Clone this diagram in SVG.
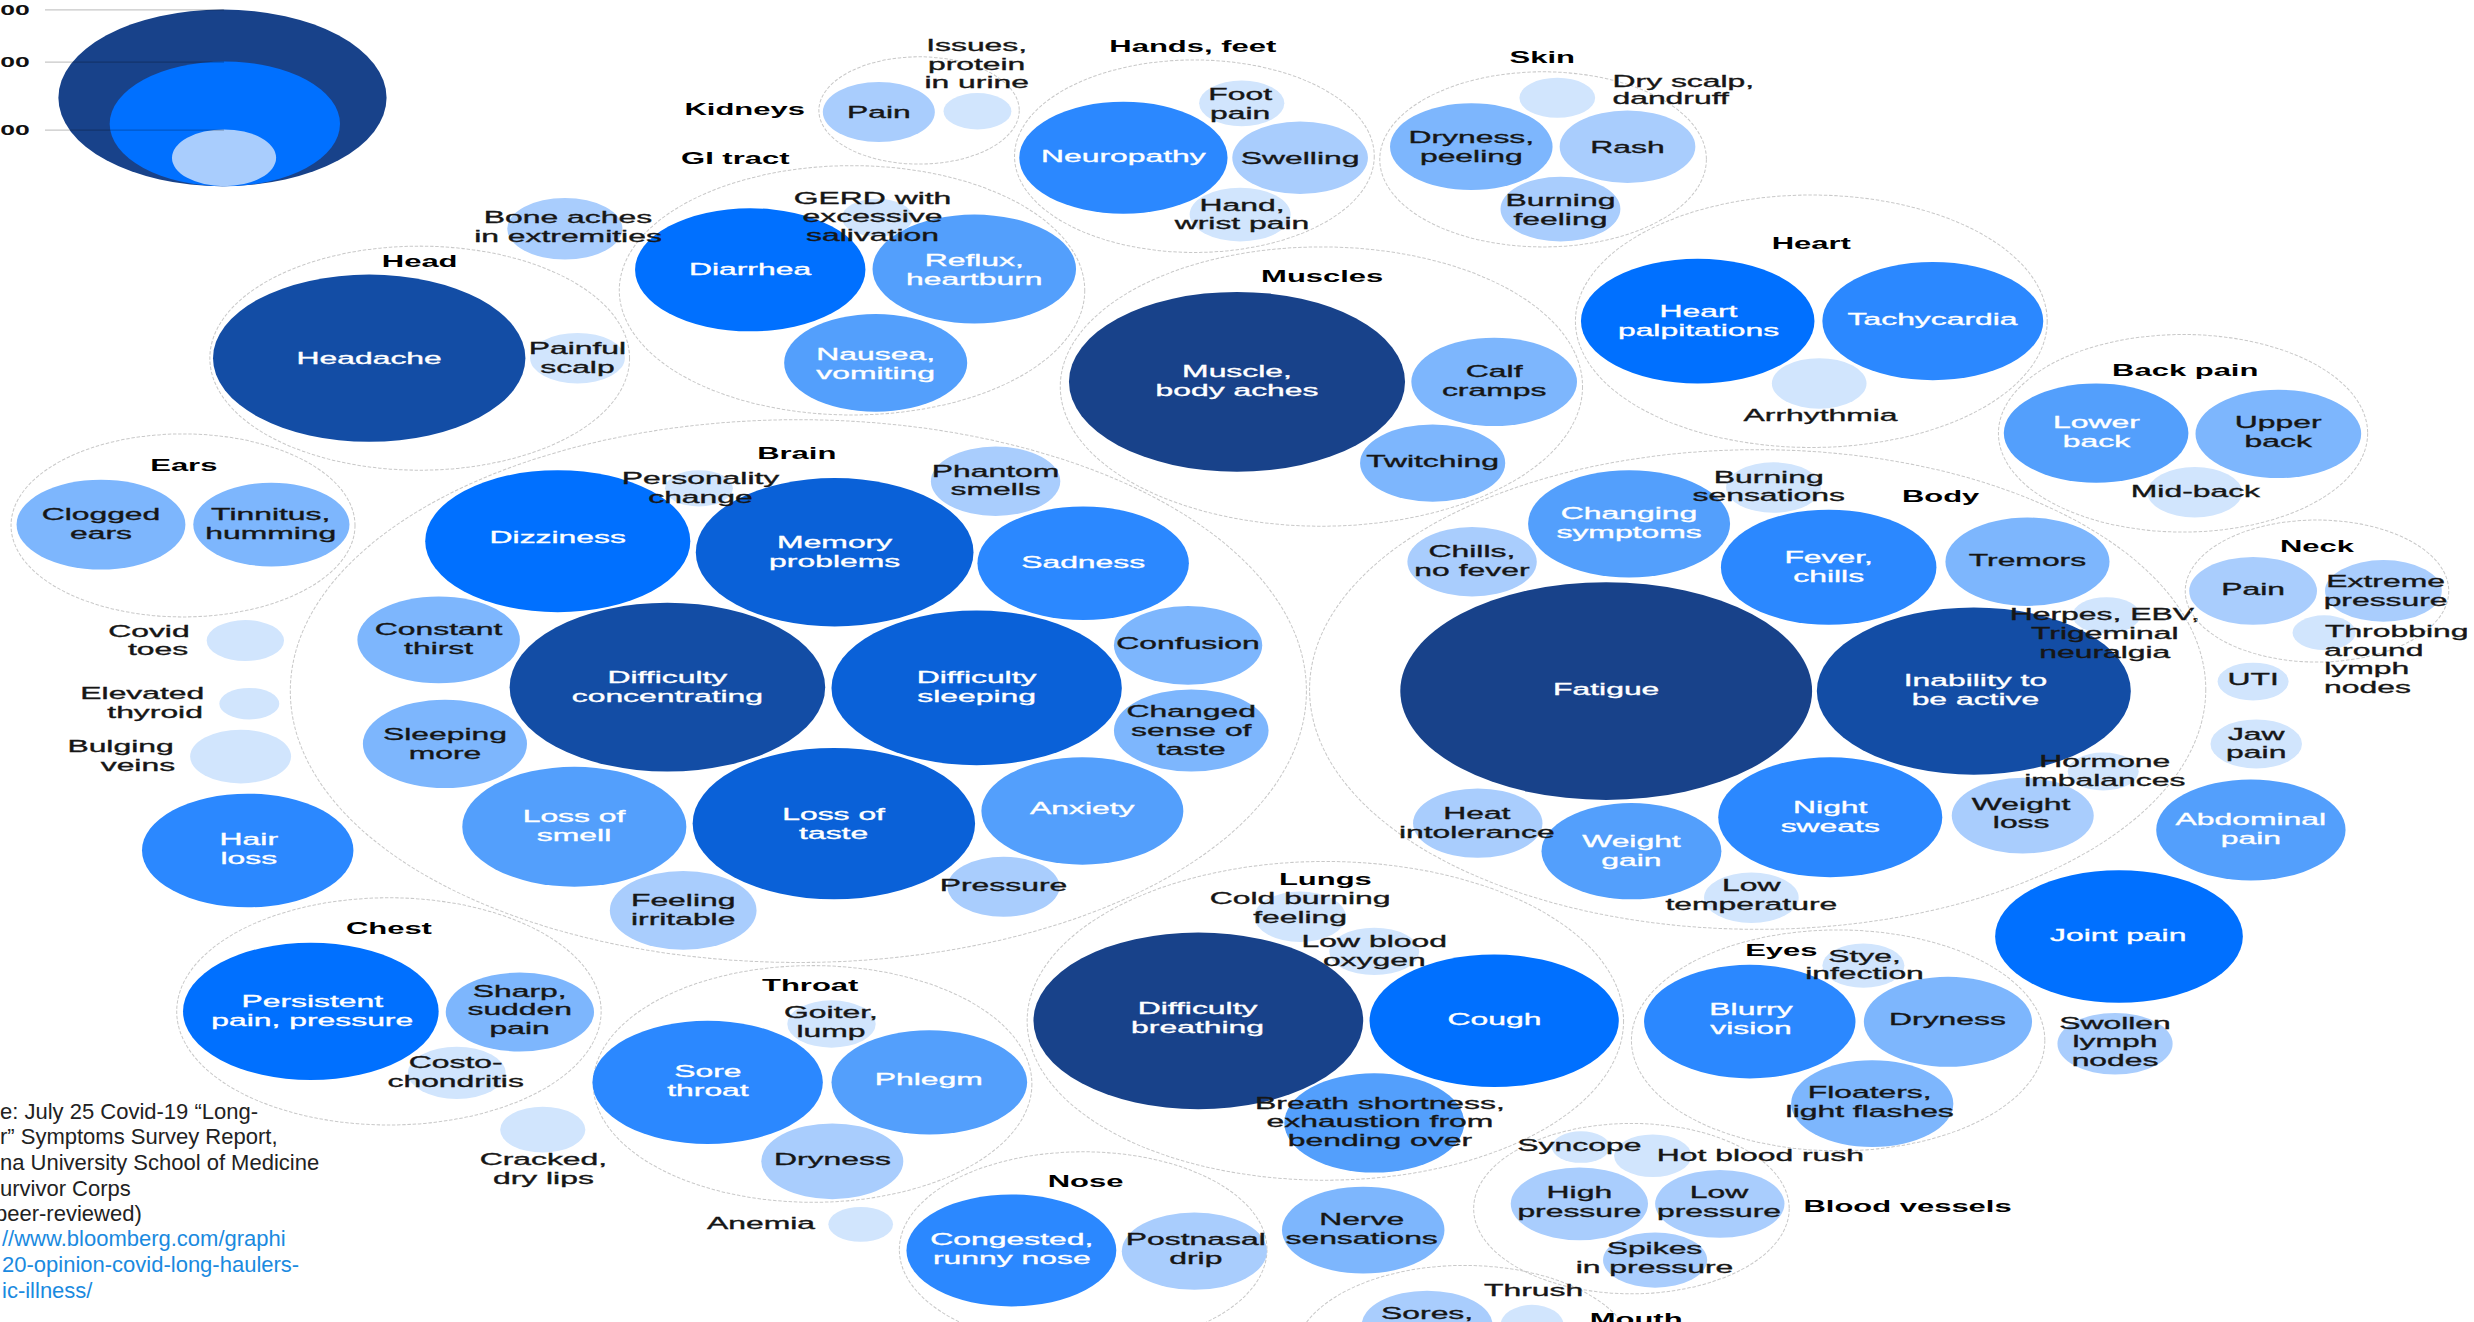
<svg xmlns="http://www.w3.org/2000/svg" width="2474" height="1322" viewBox="0 0 2474 1322">
<style>
.o{fill:none;stroke:#c9c9c9;stroke-width:.65;stroke-dasharray:2.2 1.1}
.c1{fill:#18428a}.c2{fill:#134da5}.c3{fill:#0a61d8}.c4{fill:#0070ff}.c5{fill:#2b88ff}.c6{fill:#539ffc}.c7{fill:#7db6fd}.c8{fill:#a9cdfd}.c9{fill:#d1e5fd}
text{font-family:"Liberation Sans",Arial,Helvetica,sans-serif;font-size:10.8px;text-anchor:middle;transform-box:fill-box;transform-origin:center;transform:scaleX(1.87)}
.w{fill:#fff;stroke:#fff;stroke-width:.22}.d{fill:#161616;stroke:#161616;stroke-width:.22}.h{font-weight:700;font-size:10.5px;fill:#000}
.lg{font-weight:700;font-size:9px;fill:#111}
.ll{stroke:#000;stroke-opacity:.22;stroke-width:.8}
.src{transform:none;text-anchor:start;font-size:22px;fill:#222}
.lnk{fill:#1a8ae0}
</style>
<rect width="2474" height="1322" fill="#fff"/>
<g id="chart" transform="scale(1.5778)">
<g id="legend">
<ellipse class="c1" cx="141" cy="62" rx="104" ry="56"/>
<ellipse class="c4" cx="142.5" cy="78.5" rx="73" ry="39.5"/>
<ellipse class="c8" cx="142" cy="100" rx="33" ry="18"/>
<g id="connectors">
<line class="ll" x1="28.5" y1="6.3" x2="142" y2="6.3"/>
<line class="ll" x1="28.5" y1="39.3" x2="142" y2="39.3"/>
<line class="ll" x1="28.5" y1="82.5" x2="142" y2="82.5"/>
</g>
<text class="lg" x="9.5" y="9.5">00</text>
<text class="lg" x="9.5" y="42.5">00</text>
<text class="lg" x="9.5" y="85.5">00</text>
</g>

<g id="grp-head">
<ellipse class="o" cx="266" cy="227" rx="133" ry="71"/>
<text class="h" x="266" y="169">Head</text>
<g id="n-headache"><ellipse class="c2" cx="234" cy="227" rx="99" ry="53"/><text class="w" x="234" y="230.9">Headache</text></g>
<g id="n-painful-scalp"><ellipse class="c9" cx="366" cy="227" rx="30" ry="16"/><text class="d" x="366" y="224.6"><tspan x="366">Painful</tspan><tspan x="366" dy="12">scalp</tspan></text></g>
</g>

<g id="grp-kidneys">
<ellipse class="o" cx="582.5" cy="70" rx="63.5" ry="34"/>
<text class="h" x="472" y="73">Kidneys</text>
<g id="n-kidney-pain"><ellipse class="c8" cx="557" cy="71" rx="35.5" ry="19"/><text class="d" x="557" y="74.9">Pain</text></g>
<g id="n-urine"><ellipse class="c9" cx="619.5" cy="70.5" rx="21.5" ry="11.5"/><text class="d" x="619" y="32.6"><tspan x="619">Issues,</tspan><tspan x="619" dy="11.7">protein</tspan><tspan x="619" dy="11.7">in urine</tspan></text></g>
</g>

<g id="grp-gi">
<ellipse class="o" cx="540" cy="184" rx="147.5" ry="79"/>
<text class="h" x="466" y="104">GI tract</text>
<g id="n-diarrhea"><ellipse class="c4" cx="475.5" cy="171" rx="73" ry="39"/><text class="w" x="475.5" y="174.6">Diarrhea</text></g>
<g id="n-reflux"><ellipse class="c6" cx="617.5" cy="170.5" rx="64.5" ry="34.5"/><text class="w" x="617.5" y="168.4"><tspan x="617.5">Reflux,</tspan><tspan x="617.5" dy="12">heartburn</tspan></text></g>
<g id="n-nausea"><ellipse class="c6" cx="555" cy="230" rx="58" ry="31"/><text class="w" x="555" y="227.9"><tspan x="555">Nausea,</tspan><tspan x="555" dy="12">vomiting</tspan></text></g>
<g id="n-gerd"><ellipse class="c9" cx="556" cy="138" rx="22.5" ry="12"/><text class="d" x="553" y="129.2"><tspan x="553">GERD with</tspan><tspan x="553" dy="11.7">excessive</tspan><tspan x="553" dy="11.7">salivation</tspan></text></g>
</g>

<g id="n-bone-aches"><ellipse class="c8" cx="358" cy="145" rx="36.5" ry="19.5"/><text class="d" x="360" y="141.6"><tspan x="360">Bone aches</tspan><tspan x="360" dy="11.5">in extremities</tspan></text></g>

<g id="grp-hands">
<ellipse class="o" cx="757" cy="99" rx="114" ry="61"/>
<text class="h" x="756" y="33">Hands, feet</text>
<g id="n-neuropathy"><ellipse class="c5" cx="712" cy="100" rx="66" ry="35.5"/><text class="w" x="712" y="102.6">Neuropathy</text></g>
<g id="n-foot-pain"><ellipse class="c9" cx="787" cy="65.5" rx="27" ry="14.5"/><text class="d" x="786" y="63.4"><tspan x="786">Foot</tspan><tspan x="786" dy="12">pain</tspan></text></g>
<g id="n-swelling"><ellipse class="c8" cx="824" cy="100" rx="43" ry="23"/><text class="d" x="824" y="103.9">Swelling</text></g>
<g id="n-hand-pain"><ellipse class="c9" cx="786" cy="136" rx="32" ry="17"/><text class="d" x="787" y="133.9"><tspan x="787">Hand,</tspan><tspan x="787" dy="11.5">wrist pain</tspan></text></g>
</g>

<g id="grp-skin">
<ellipse class="o" cx="978" cy="101" rx="103.5" ry="55.5"/>
<text class="h" x="977.5" y="40">Skin</text>
<g id="n-dryness-peeling"><ellipse class="c7" cx="932.5" cy="93" rx="51.5" ry="27.5"/><text class="d" x="932.5" y="90.9"><tspan x="932.5">Dryness,</tspan><tspan x="932.5" dy="12">peeling</tspan></text></g>
<g id="n-rash"><ellipse class="c8" cx="1031.5" cy="93" rx="43" ry="23"/><text class="d" x="1031.5" y="96.9">Rash</text></g>
<g id="n-dry-scalp"><ellipse class="c9" cx="987" cy="62" rx="24" ry="12.7"/><text class="d" x="1066.9" y="54.9">Dry scalp,</text><text class="d" x="1059" y="65.9">dandruff</text></g>
<g id="n-burning-feeling"><ellipse class="c8" cx="989" cy="132.5" rx="38" ry="20.5"/><text class="d" x="989" y="130.4"><tspan x="989">Burning</tspan><tspan x="989" dy="12">feeling</tspan></text></g>
</g>

<g id="grp-muscles">
<ellipse class="o" cx="837.5" cy="245" rx="165.5" ry="88.5"/>
<text class="h" x="838" y="179">Muscles</text>
<g id="n-muscle-aches"><ellipse class="c1" cx="784" cy="242" rx="106.5" ry="57"/><text class="w" x="784" y="238.8"><tspan x="784">Muscle,</tspan><tspan x="784" dy="12">body aches</tspan></text></g>
<g id="n-calf"><ellipse class="c7" cx="947" cy="242" rx="52.5" ry="28"/><text class="d" x="947" y="238.8"><tspan x="947">Calf</tspan><tspan x="947" dy="12">cramps</tspan></text></g>
<g id="n-twitching"><ellipse class="c7" cx="908" cy="293.5" rx="46" ry="24.5"/><text class="d" x="908" y="295.9">Twitching</text></g>
</g>

<g id="grp-heart">
<ellipse class="o" cx="1148" cy="203.6" rx="149.5" ry="80"/>
<text class="h" x="1148" y="158">Heart</text>
<g id="n-palpitations"><ellipse class="c4" cx="1076" cy="203.5" rx="74" ry="39.5"/><text class="w" x="1076.5" y="200.9"><tspan x="1076.5">Heart</tspan><tspan x="1076.5" dy="12">palpitations</tspan></text></g>
<g id="n-tachycardia"><ellipse class="c5" cx="1225" cy="203.5" rx="70" ry="37.5"/><text class="w" x="1225" y="205.9">Tachycardia</text></g>
<g id="n-arrhythmia"><ellipse class="c9" cx="1153" cy="243" rx="30" ry="16"/><text class="d" x="1154" y="266.9">Arrhythmia</text></g>
</g>

<g id="grp-back">
<ellipse class="o" cx="1383.6" cy="274.6" rx="117" ry="62.6"/>
<text class="h" x="1385" y="238.5">Back pain</text>
<g id="n-lower-back"><ellipse class="c6" cx="1328.5" cy="274.5" rx="58.5" ry="31.5"/><text class="w" x="1328.8" y="271.5"><tspan x="1328.8">Lower</tspan><tspan x="1328.8" dy="12">back</tspan></text></g>
<g id="n-upper-back"><ellipse class="c7" cx="1444" cy="275" rx="52.5" ry="28"/><text class="d" x="1444" y="271.5"><tspan x="1444">Upper</tspan><tspan x="1444" dy="12">back</tspan></text></g>
<g id="n-mid-back"><ellipse class="c9" cx="1391" cy="312" rx="30" ry="16"/><text class="d" x="1391.5" y="314.9">Mid-back</text></g>
</g>

<g id="grp-ears">
<ellipse class="o" cx="116" cy="333" rx="109" ry="58"/>
<text class="h" x="116.5" y="298.5">Ears</text>
<g id="n-clogged"><ellipse class="c7" cx="64" cy="332.5" rx="53.5" ry="28.5"/><text class="d" x="64" y="329.7"><tspan x="64">Clogged</tspan><tspan x="64" dy="12">ears</tspan></text></g>
<g id="n-tinnitus"><ellipse class="c7" cx="172" cy="332.5" rx="49.5" ry="26.5"/><text class="d" x="171.6" y="329.7"><tspan x="171.6">Tinnitus,</tspan><tspan x="171.6" dy="12">humming</tspan></text></g>
</g>

<g id="n-covid-toes"><ellipse class="c9" cx="155.5" cy="406" rx="24.5" ry="13"/><text class="d" x="94.4" y="403.9">Covid</text><text class="d" x="100.2" y="415.4">toes</text></g>
<g id="n-thyroid"><ellipse class="c9" cx="158" cy="446" rx="19" ry="10"/><text class="d" x="90.2" y="442.9">Elevated</text><text class="d" x="98.3" y="454.9">thyroid</text></g>
<g id="n-veins"><ellipse class="c9" cx="152.5" cy="479.5" rx="32" ry="17"/><text class="d" x="76.4" y="476.9">Bulging</text><text class="d" x="87.4" y="488.9">veins</text></g>
<g id="n-hair-loss"><ellipse class="c5" cx="157" cy="539" rx="67" ry="36"/><text class="w" x="157.8" y="535.6"><tspan x="157.8">Hair</tspan><tspan x="157.8" dy="12">loss</tspan></text></g>

<g id="grp-brain">
<ellipse class="o" cx="506" cy="438" rx="322" ry="172"/>
<text class="h" x="505" y="291">Brain</text>
<g id="n-dizziness"><ellipse class="c4" cx="353.5" cy="343" rx="84" ry="45"/><text class="w" x="353.5" y="344.3">Dizziness</text></g>
<g id="n-memory"><ellipse class="c3" cx="529" cy="350" rx="88" ry="47"/><text class="w" x="529" y="347.6"><tspan x="529">Memory</tspan><tspan x="529" dy="12">problems</tspan></text></g>
<g id="n-personality"><ellipse class="c9" cx="443" cy="309.5" rx="21.5" ry="11.5"/><text class="d" x="444" y="306.6"><tspan x="444">Personality</tspan><tspan x="444" dy="12">change</tspan></text></g>
<g id="n-phantom"><ellipse class="c8" cx="631" cy="305" rx="41" ry="22"/><text class="d" x="631" y="302.4"><tspan x="631">Phantom</tspan><tspan x="631" dy="11.5">smells</tspan></text></g>
<g id="n-sadness"><ellipse class="c5" cx="686.5" cy="357" rx="67" ry="36"/><text class="w" x="686.5" y="359.9">Sadness</text></g>
<g id="n-confusion"><ellipse class="c7" cx="753" cy="409" rx="47" ry="25"/><text class="d" x="753" y="411.2">Confusion</text></g>
<g id="n-changed-taste"><ellipse class="c7" cx="755" cy="463" rx="49" ry="26"/><text class="d" x="755" y="454.4"><tspan x="755">Changed</tspan><tspan x="755" dy="12">sense of</tspan><tspan x="755" dy="12">taste</tspan></text></g>
<g id="n-concentrating"><ellipse class="c2" cx="423" cy="435.5" rx="100" ry="53.5"/><text class="w" x="423" y="432.9"><tspan x="423">Difficulty</tspan><tspan x="423" dy="12">concentrating</tspan></text></g>
<g id="n-sleeping"><ellipse class="c3" cx="619" cy="436" rx="92" ry="49"/><text class="w" x="619" y="432.9"><tspan x="619">Difficulty</tspan><tspan x="619" dy="12">sleeping</tspan></text></g>
<g id="n-thirst"><ellipse class="c7" cx="278" cy="405.5" rx="51.5" ry="27.5"/><text class="d" x="278" y="402.6"><tspan x="278">Constant</tspan><tspan x="278" dy="12">thirst</tspan></text></g>
<g id="n-sleeping-more"><ellipse class="c7" cx="282" cy="471.5" rx="52" ry="28"/><text class="d" x="282" y="469.3"><tspan x="282">Sleeping</tspan><tspan x="282" dy="12">more</tspan></text></g>
<g id="n-loss-smell"><ellipse class="c6" cx="364" cy="524" rx="71" ry="38"/><text class="w" x="364" y="520.9"><tspan x="364">Loss of</tspan><tspan x="364" dy="12">smell</tspan></text></g>
<g id="n-loss-taste"><ellipse class="c3" cx="528.5" cy="522" rx="89.5" ry="48"/><text class="w" x="528.5" y="519.6"><tspan x="528.5">Loss of</tspan><tspan x="528.5" dy="12">taste</tspan></text></g>
<g id="n-anxiety"><ellipse class="c6" cx="686" cy="514" rx="64" ry="34"/><text class="w" x="686" y="515.9">Anxiety</text></g>
<g id="n-pressure"><ellipse class="c8" cx="636" cy="562" rx="35.5" ry="19"/><text class="d" x="636" y="564.9">Pressure</text></g>
<g id="n-irritable"><ellipse class="c8" cx="433" cy="577" rx="46.5" ry="25"/><text class="d" x="433" y="574.4"><tspan x="433">Feeling</tspan><tspan x="433" dy="12">irritable</tspan></text></g>
</g>

<g id="grp-body">
<ellipse class="o" cx="1114" cy="437" rx="284" ry="152"/>
<text class="h" x="1230" y="318">Body</text>
<g id="n-fatigue"><ellipse class="c1" cx="1018" cy="438" rx="130.5" ry="69"/><text class="w" x="1018" y="440.5">Fatigue</text></g>
<g id="n-inability"><ellipse class="c2" cx="1251" cy="438" rx="99.5" ry="53"/><text class="w" x="1252" y="434.6"><tspan x="1252">Inability to</tspan><tspan x="1252" dy="12">be active</tspan></text></g>
<g id="n-changing"><ellipse class="c6" cx="1032.5" cy="332" rx="64" ry="34"/><text class="w" x="1032.5" y="329.2"><tspan x="1032.5">Changing</tspan><tspan x="1032.5" dy="12">symptoms</tspan></text></g>
<g id="n-chills"><ellipse class="c8" cx="933" cy="356" rx="41" ry="22"/><text class="d" x="933" y="353.3"><tspan x="933">Chills,</tspan><tspan x="933" dy="12">no fever</tspan></text></g>
<g id="n-fever"><ellipse class="c5" cx="1159" cy="359.5" rx="68.3" ry="36.5"/><text class="w" x="1159" y="356.9"><tspan x="1159">Fever,</tspan><tspan x="1159" dy="12">chills</tspan></text></g>
<g id="n-burning-sens"><ellipse class="c9" cx="1124" cy="309" rx="30" ry="16"/><text class="d" x="1121" y="306.3"><tspan x="1121">Burning</tspan><tspan x="1121" dy="11.5">sensations</tspan></text></g>
<g id="n-tremors"><ellipse class="c7" cx="1285" cy="356" rx="52" ry="28"/><text class="d" x="1285" y="358.9">Tremors</text></g>
<g id="n-herpes"><ellipse class="c9" cx="1335" cy="390" rx="21.5" ry="11.5"/><text class="d" x="1334" y="392.8"><tspan x="1334">Herpes, EBV,</tspan><tspan x="1334" dy="12">Trigeminal</tspan><tspan x="1334" dy="12">neuralgia</tspan></text></g>
<g id="n-weight-gain"><ellipse class="c6" cx="1034" cy="539.5" rx="57" ry="30.5"/><text class="w" x="1034" y="537"><tspan x="1034">Weight</tspan><tspan x="1034" dy="12">gain</tspan></text></g>
<g id="n-heat"><ellipse class="c8" cx="936.6" cy="521.7" rx="41" ry="22"/><text class="d" x="936" y="518.9"><tspan x="936">Heat</tspan><tspan x="936" dy="12">intolerance</tspan></text></g>
<g id="n-night-sweats"><ellipse class="c5" cx="1160" cy="518" rx="71" ry="38"/><text class="w" x="1160" y="515.3"><tspan x="1160">Night</tspan><tspan x="1160" dy="12">sweats</tspan></text></g>
<g id="n-weight-loss"><ellipse class="c8" cx="1282" cy="517" rx="45" ry="24"/><text class="d" x="1281" y="513.1"><tspan x="1281">Weight</tspan><tspan x="1281" dy="12">loss</tspan></text></g>
<g id="n-hormone"><ellipse class="c9" cx="1333" cy="489" rx="22.5" ry="12"/><text class="d" x="1334" y="485.9"><tspan x="1334">Hormone</tspan><tspan x="1334" dy="12">imbalances</tspan></text></g>
<g id="n-low-temp"><ellipse class="c9" cx="1110" cy="569" rx="30" ry="16"/><text class="d" x="1110" y="564.9"><tspan x="1110">Low</tspan><tspan x="1110" dy="12">temperature</tspan></text></g>
</g>

<g id="grp-neck">
<ellipse class="o" cx="1468.5" cy="374.6" rx="83.5" ry="45"/>
<text class="h" x="1468.5" y="350">Neck</text>
<g id="n-throbbing"><ellipse class="c9" cx="1473" cy="401" rx="20" ry="11"/><text class="d" x="1519" y="403.9">Throbbing</text><text class="d" x="1504.6" y="415.6">around</text><text class="d" x="1500" y="427.3">lymph</text><text class="d" x="1500.5" y="439">nodes</text></g>
<g id="n-neck-pain"><ellipse class="c8" cx="1428" cy="374.5" rx="40.5" ry="21.5"/><text class="d" x="1428" y="377.3">Pain</text></g>
<g id="n-extreme"><ellipse class="c8" cx="1510.6" cy="374.5" rx="37" ry="19.5"/><text class="d" x="1512" y="372.1"><tspan x="1512">Extreme</tspan><tspan x="1512" dy="12">pressure</tspan></text></g>
</g>

<g id="n-uti"><ellipse class="c9" cx="1428" cy="432" rx="22.5" ry="12"/><text class="d" x="1428" y="434.3">UTI</text></g>
<g id="n-jaw"><ellipse class="c9" cx="1430" cy="471.5" rx="29" ry="15.5"/><text class="d" x="1430" y="468.7"><tspan x="1430">Jaw</tspan><tspan x="1430" dy="12">pain</tspan></text></g>
<g id="n-abdominal"><ellipse class="c6" cx="1426.6" cy="526" rx="60" ry="32"/><text class="w" x="1426.6" y="522.9"><tspan x="1426.6">Abdominal</tspan><tspan x="1426.6" dy="12">pain</tspan></text></g>
<g id="n-joint"><ellipse class="c4" cx="1343" cy="593.5" rx="78.5" ry="42"/><text class="w" x="1342.5" y="596.5">Joint pain</text></g>
<g id="n-swollen"><ellipse class="c8" cx="1340.5" cy="661.5" rx="36.5" ry="19.5"/><text class="d" x="1340.5" y="651.9"><tspan x="1340.5">Swollen</tspan><tspan x="1340.5" dy="12">lymph</tspan><tspan x="1340.5" dy="12">nodes</tspan></text></g>

<g id="grp-chest">
<ellipse class="o" cx="246.5" cy="641" rx="134.5" ry="72"/>
<text class="h" x="246.5" y="592">Chest</text>
<g id="n-persistent"><ellipse class="c4" cx="197" cy="641" rx="81" ry="43.5"/><text class="w" x="197.9" y="638"><tspan x="197.9">Persistent</tspan><tspan x="197.9" dy="12">pain, pressure</tspan></text></g>
<g id="n-sharp"><ellipse class="c7" cx="329.5" cy="641.4" rx="47" ry="25"/><text class="d" x="329.4" y="631.9"><tspan x="329.4">Sharp,</tspan><tspan x="329.4" dy="11.7">sudden</tspan><tspan x="329.4" dy="11.7">pain</tspan></text></g>
<g id="n-costo"><ellipse class="c9" cx="289.5" cy="680" rx="31" ry="16.5"/><text class="d" x="288.8" y="676.9"><tspan x="288.8">Costo-</tspan><tspan x="288.8" dy="12">chondritis</tspan></text></g>
</g>

<g id="n-cracked"><ellipse class="c9" cx="344" cy="716" rx="27" ry="14.5"/><text class="d" x="344.4" y="738.5"><tspan x="344.4">Cracked,</tspan><tspan x="344.4" dy="12">dry lips</tspan></text></g>

<g id="grp-throat">
<ellipse class="o" cx="515" cy="687" rx="139" ry="75"/>
<text class="h" x="513.5" y="628">Throat</text>
<g id="n-sore-throat"><ellipse class="c5" cx="448.5" cy="686" rx="73" ry="39"/><text class="w" x="448.7" y="682.6"><tspan x="448.7">Sore</tspan><tspan x="448.7" dy="12">throat</tspan></text></g>
<g id="n-phlegm"><ellipse class="c6" cx="589" cy="686" rx="62" ry="33"/><text class="w" x="588.7" y="687.9">Phlegm</text></g>
<g id="n-goiter"><ellipse class="c9" cx="527" cy="649" rx="28" ry="15"/><text class="d" x="526.7" y="645.4"><tspan x="526.7">Goiter,</tspan><tspan x="526.7" dy="12">lump</tspan></text></g>
<g id="n-throat-dryness"><ellipse class="c8" cx="527.5" cy="736" rx="45" ry="24"/><text class="d" x="527.6" y="738.5">Dryness</text></g>
</g>

<g id="n-anemia"><ellipse class="c9" cx="545.5" cy="776" rx="20.5" ry="11"/><text class="d" x="482.5" y="778.9">Anemia</text></g>

<g id="grp-nose">
<ellipse class="o" cx="686.5" cy="792" rx="116.5" ry="62"/>
<text class="h" x="688" y="752">Nose</text>
<g id="n-congested"><ellipse class="c5" cx="641" cy="792.5" rx="66.5" ry="35.5"/><text class="w" x="641.3" y="789.2"><tspan x="641.3">Congested,</tspan><tspan x="641.3" dy="12">runny nose</tspan></text></g>
<g id="n-postnasal"><ellipse class="c8" cx="757" cy="793" rx="46" ry="24.5"/><text class="d" x="757.9" y="789.2"><tspan x="757.9">Postnasal</tspan><tspan x="757.9" dy="12">drip</tspan></text></g>
</g>

<g id="grp-lungs">
<ellipse class="o" cx="840" cy="647" rx="189" ry="101"/>
<text class="h" x="840" y="561">Lungs</text>
<g id="n-breathing"><ellipse class="c1" cx="759.5" cy="647" rx="104.5" ry="56"/><text class="w" x="759" y="642.9"><tspan x="759">Difficulty</tspan><tspan x="759" dy="12">breathing</tspan></text></g>
<g id="n-cough"><ellipse class="c4" cx="947" cy="647" rx="79" ry="42"/><text class="w" x="947.2" y="649.7">Cough</text></g>
<g id="n-breath-short"><ellipse class="c6" cx="871" cy="711.7" rx="57" ry="31.5"/><text class="d" x="874.6" y="702.7"><tspan x="874.6">Breath shortness,</tspan><tspan x="874.6" dy="11.8">exhaustion from</tspan><tspan x="874.6" dy="11.8">bending over</tspan></text></g>
<g id="n-cold-burning"><ellipse class="c9" cx="824" cy="581" rx="29" ry="16"/><text class="d" x="824" y="573.2"><tspan x="824">Cold burning</tspan><tspan x="824" dy="12">feeling</tspan></text></g>
<g id="n-low-oxygen"><ellipse class="c9" cx="871" cy="603" rx="28.5" ry="15"/><text class="d" x="871" y="600.1"><tspan x="871">Low blood</tspan><tspan x="871" dy="12">oxygen</tspan></text></g>
</g>

<g id="grp-eyes">
<ellipse class="o" cx="1165" cy="659.4" rx="131" ry="70"/>
<text class="h" x="1129" y="606">Eyes</text>
<g id="n-blurry"><ellipse class="c5" cx="1109" cy="647.5" rx="67" ry="36"/><text class="w" x="1109.8" y="643.5"><tspan x="1109.8">Blurry</tspan><tspan x="1109.8" dy="12">vision</tspan></text></g>
<g id="n-eye-dryness"><ellipse class="c7" cx="1234.6" cy="647.6" rx="53.3" ry="28.5"/><text class="d" x="1234.3" y="649.7">Dryness</text></g>
<g id="n-floaters"><ellipse class="c7" cx="1186.6" cy="699.5" rx="51.4" ry="27.5"/><text class="d" x="1185" y="695.9"><tspan x="1185">Floaters,</tspan><tspan x="1185" dy="12">light flashes</tspan></text></g>
<g id="n-stye"><ellipse class="c9" cx="1181" cy="612" rx="26" ry="14"/><text class="d" x="1181.7" y="609.4"><tspan x="1181.7">Stye,</tspan><tspan x="1181.7" dy="11">infection</tspan></text></g>
</g>

<g id="n-nerve"><ellipse class="c7" cx="864" cy="779.6" rx="51.5" ry="27.5"/><text class="d" x="863" y="776.2"><tspan x="863">Nerve</tspan><tspan x="863" dy="12">sensations</tspan></text></g>

<g id="grp-blood">
<ellipse class="o" cx="1034" cy="766" rx="100" ry="54"/>
<text class="h" x="1209" y="768">Blood vessels</text>
<g id="n-high-pressure"><ellipse class="c8" cx="1001" cy="763" rx="43.5" ry="23"/><text class="d" x="1001" y="759.3"><tspan x="1001">High</tspan><tspan x="1001" dy="12">pressure</tspan></text></g>
<g id="n-low-pressure"><ellipse class="c8" cx="1090" cy="763" rx="41" ry="21.5"/><text class="d" x="1089.5" y="759.3"><tspan x="1089.5">Low</tspan><tspan x="1089.5" dy="12">pressure</tspan></text></g>
<g id="n-spikes"><ellipse class="c8" cx="1049" cy="798.6" rx="33" ry="17.5"/><text class="d" x="1048.6" y="794.9"><tspan x="1048.6">Spikes</tspan><tspan x="1048.6" dy="12">in pressure</tspan></text></g>
<g id="n-hot-blood"><ellipse class="c9" cx="1047.5" cy="732.5" rx="24.5" ry="13.5"/><text class="d" x="1115.7" y="735.9">Hot blood rush</text></g>
<g id="n-syncope"><ellipse class="c9" cx="1002" cy="727" rx="18.5" ry="10"/><text class="d" x="1001" y="729.6">Syncope</text></g>
</g>

<g id="grp-mouth">
<ellipse class="o" cx="928" cy="860" rx="108" ry="58"/>
<text class="h" x="1037" y="840">Mouth</text>
<g id="n-sores"><ellipse class="c8" cx="904.5" cy="840" rx="41.5" ry="22"/><text class="d" x="904.5" y="835.9">Sores,</text></g>
<g id="n-thrush"><ellipse class="c9" cx="971" cy="840" rx="20" ry="13"/><text class="d" x="972" y="821.5">Thrush</text></g>
</g>
</g>

<g id="source">
<text class="src" x="0" y="1119">e: July 25 Covid-19 “Long-</text>
<text class="src" x="0" y="1144">r” Symptoms Survey Report,</text>
<text class="src" x="0" y="1170">na University School of Medicine</text>
<text class="src" x="0" y="1196">urvivor Corps</text>
<text class="src" x="-5" y="1221">peer-reviewed)</text>
<text class="src lnk" x="2" y="1246">//www.bloomberg.com/graphi</text>
<text class="src lnk" x="2" y="1272">20-opinion-covid-long-haulers-</text>
<text class="src lnk" x="2" y="1298">ic-illness/</text>
</g>
</svg>
